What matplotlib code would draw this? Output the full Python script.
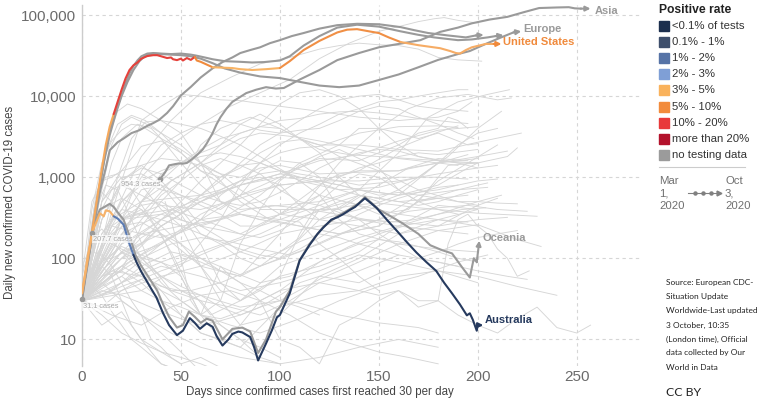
import numpy as np
import matplotlib
matplotlib.use('Agg')
import matplotlib.pyplot as plt
from matplotlib.lines import Line2D
from matplotlib.patches import Rectangle
from matplotlib.ticker import NullLocator

plt.rcParams['font.family'] = ['Liberation Sans', 'DejaVu Sans']

# ---- highlighted series (days since 30/day, daily cases) ----
us_days = [0, 3, 6, 9, 12, 14, 16, 18, 20, 22, 24, 26, 28, 30, 33, 36, 38, 40, 43, 45,
           46, 48, 50, 51, 53, 55, 57, 58, 60, 66, 70, 76, 80, 86, 93, 100, 105, 112, 120, 129,
           134, 139, 145, 150, 155, 161, 170, 181, 186, 189, 191, 194, 197, 204, 208]
us_vals = [37, 100, 300, 900, 2500, 4200, 6000, 8500, 12000, 16500, 21000, 24000, 26000, 29000, 31200, 32000, 32000, 31000, 29500, 30000,
           28500, 27800, 29000, 27500, 29500, 28000, 30500, 27500, 26500, 22700, 22500, 22200, 21500, 21000, 21500, 22200, 27000, 37000, 48000, 61000,
           66000, 67000, 63000, 60000, 53000, 46500, 42500, 39000, 36000, 34000, 33500, 37000, 40000, 44000, 44000]
us_breaks = [0, 16, 57, 66, 100, 161, 208]
us_colors = ['#f6a95c', '#e5413b', '#f08a3c', '#f8b466', '#f08f45', '#f6ac65']

na_days = [0, 3, 6, 9, 12, 14, 16, 18, 20, 22, 24, 26, 28, 30, 33, 36, 40, 45, 50, 55,
           58, 62, 66, 72, 80, 86, 92, 100, 105, 112, 120, 129, 139, 150, 161, 170, 178, 190, 197, 205, 209]
na_vals = [35, 90, 260, 750, 2200, 3800, 5500, 7500, 10500, 14500, 19000, 23500, 27500, 31000, 33500, 34000, 33500, 33000, 33500, 32500,
           31500, 30000, 28500, 27000, 26500, 26000, 26300, 27500, 31000, 42000, 55000, 70000, 76000, 72000, 63000, 57000, 53000, 49000, 50000, 53000, 55000]

eu_days = [5, 8, 11, 14, 17, 20, 23, 26, 29, 32, 36, 40, 45, 50, 55, 60, 66, 72, 80, 90,
           100, 110, 120, 130, 140, 150, 160, 170, 180, 190, 196, 204, 211, 215, 218]
eu_vals = [208, 600, 1500, 3300, 6000, 10000, 15000, 21000, 27000, 31500, 33500, 33000, 32500, 32000, 31000, 29000, 25500, 22000, 19500, 17500,
           16700, 15000, 13500, 12900, 13500, 15800, 18500, 22700, 28000, 33000, 36000, 44000, 52000, 57000, 61000]

sa_days = [0, 3, 6, 9, 12, 14, 18, 21, 25, 29, 33, 36, 39, 43, 46, 50, 55, 60, 66, 71,
           76, 80, 85, 90, 95, 100, 106, 112, 120, 129, 139, 150, 161, 168, 175, 185, 194, 199]
sa_vals = [31, 90, 250, 650, 1300, 2150, 2700, 3000, 3500, 3800, 4300, 4650, 5100, 6200, 7500, 10200, 13000, 17000, 22000, 26300,
           30000, 34000, 37000, 40000, 45000, 49000, 55000, 60000, 68000, 75000, 78000, 77000, 71000, 65000, 60000, 56000, 53000, 56000]

as_days = [39.5, 42, 44, 47, 49, 51, 53, 56, 58, 61, 63, 66, 68, 70, 73, 76, 80, 83, 88, 93,
           98, 102, 110, 120, 129, 140, 150, 160, 171, 181, 190, 197, 206, 215, 223, 231, 240, 246, 249, 252]
as_vals = [954, 1150, 1400, 1450, 1480, 1470, 1500, 1700, 1870, 2200, 2600, 3500, 4500, 5500, 7000, 8500, 9800, 10900, 12000, 12900,
           12400, 12600, 16000, 21000, 27800, 34000, 40000, 44000, 49000, 62000, 70000, 79000, 88000, 95000, 108000, 122000, 124000, 125000, 121000, 120000]

oc_days = [0, 3, 6, 9, 12, 14, 16, 18, 21, 24, 27, 30, 33, 38, 41, 44, 48, 51, 54, 57,
           60, 63, 66, 71, 76, 81, 85, 89, 93, 98, 100, 105, 110, 115, 122, 129, 135, 140, 143, 150,
           156, 162, 170, 176, 182, 187, 192, 196, 198, 199.5]
oc_vals = [31, 100, 250, 400, 440, 470, 430, 370, 300, 190, 110, 80, 62, 40, 27, 19, 14, 15, 22, 19,
           16, 18, 17, 10, 13.5, 14, 12.5, 6.8, 10, 22, 25, 40, 95, 150, 245, 330, 400, 480, 570, 400,
           330, 270, 200, 145, 126, 115, 78, 58, 100, 90]

au_days = [0, 3, 5.6, 9, 11, 12, 14, 16, 18, 21, 24, 26, 27.6, 30, 32.6, 35, 37.6, 41, 44, 46,
           48, 51, 54.5, 57, 59.6, 63, 66, 68, 71, 74, 76, 79, 81, 85, 87, 89, 91, 93, 96, 98.5,
           100, 105, 110, 115, 119, 122, 126, 129, 132, 135, 138, 141, 143, 146, 149, 154, 159, 164, 169, 174,
           179, 183, 187, 191, 194.5, 196, 197.5, 199.5, 200]
au_vals = [37, 110, 222, 360, 330, 390, 380, 330, 310, 260, 150, 110, 89, 68, 53, 42, 33, 21, 15, 13,
           11.3, 12.8, 18.3, 16, 13.5, 15.8, 14.3, 11, 8.4, 10, 11.7, 12.5, 12.2, 10.7, 8, 5.5, 7, 8.9, 13, 18.7,
           20, 37, 94, 146, 200, 240, 300, 320, 350, 390, 430, 500, 550, 480, 415, 300, 220, 160, 118, 90,
           70, 50, 37, 27, 19.8, 21, 17.5, 12.8, 15]
au_breaks = [0, 16, 26, 200]
au_colors = ['#f6b26a', '#5b7bb3', '#263a5e']

# ---- background countries ----
india = ([0, 15, 30, 45, 60, 75, 90, 105, 120, 135, 150, 160, 170, 178, 183, 190, 196, 200],
         [30, 250, 1000, 2500, 4500, 7500, 11000, 16000, 29000, 45000, 63000, 72000, 83000, 90000, 93000, 86000, 82000, 80000])
brazil = ([0, 15, 30, 45, 60, 75, 90, 105, 120, 130, 140, 150, 160, 170, 180, 190, 202],
          [30, 300, 1800, 5000, 11000, 17000, 25000, 30000, 38000, 42000, 45000, 43000, 42000, 38000, 30000, 28000, 27000])
russia = ([0, 10, 20, 30, 40, 50, 60, 70, 80, 100, 120, 140, 160, 180, 190, 197],
          [30, 150, 900, 5000, 7500, 10500, 10000, 9000, 8800, 7500, 6500, 5500, 5000, 5500, 6500, 8500])
spain = ([3, 8, 13, 18, 23, 30, 40, 50, 60, 70, 80, 90, 110, 130, 150, 165, 180, 195, 210, 217],
         [40, 600, 3000, 6500, 8000, 7000, 5000, 3500, 1500, 500, 350, 300, 400, 1500, 4000, 7000, 9500, 10500, 9000, 9500])
italy = ([7, 10, 15, 20, 25, 32, 40, 50, 60, 70, 80, 95, 110, 130, 150, 170, 185, 200, 215, 220],
         [300, 700, 2500, 4500, 5500, 4600, 3500, 2500, 1500, 900, 500, 300, 250, 200, 250, 500, 1400, 1500, 1800, 2300])
uk = ([5, 12, 18, 25, 32, 40, 50, 60, 70, 80, 90, 110, 130, 150, 170, 185, 200, 212],
      [40, 250, 1000, 3000, 4800, 5000, 4500, 4000, 3200, 2500, 1800, 900, 700, 750, 1000, 1800, 4000, 6500])
france = ([3, 10, 15, 20, 28, 35, 40, 50, 60, 70, 80, 100, 120, 140, 160, 175, 190, 205, 216],
          [50, 500, 1500, 3000, 4500, 4000, 3000, 1500, 800, 500, 400, 450, 500, 700, 2000, 5500, 8500, 10500, 12000])
germany = ([0, 6, 12, 18, 25, 32, 40, 50, 60, 75, 90, 110, 130, 150, 165, 180, 200, 215],
           [35, 400, 2000, 4500, 5800, 5000, 3500, 2000, 1200, 700, 400, 400, 400, 800, 1300, 1500, 1800, 2100])
iran = ([0, 5, 10, 15, 20, 30, 40, 50, 60, 70, 80, 90, 100, 110, 120, 140, 160, 180, 200, 222],
        [60, 500, 900, 1000, 1200, 2400, 2800, 2000, 1200, 1000, 1300, 2000, 2700, 2900, 2500, 2500, 2200, 2100, 2700, 3500])
turkey = ([0, 5, 10, 15, 20, 25, 30, 40, 50, 60, 70, 80, 90, 100, 120, 140, 160, 180, 195],
          [30, 400, 1500, 2800, 3800, 4500, 4300, 3000, 2200, 1500, 1100, 1000, 1300, 1400, 1100, 1150, 1200, 1700, 1600])
mexico = ([0, 15, 30, 40, 50, 60, 70, 80, 90, 100, 110, 120, 130, 140, 150, 160, 170, 180, 190, 195],
          [30, 100, 500, 900, 1500, 2200, 3000, 3500, 4200, 5000, 5300, 6000, 6400, 6500, 6200, 5800, 5300, 5000, 4700, 4600])
peru = ([0, 15, 30, 40, 50, 60, 70, 80, 90, 100, 110, 120, 130, 140, 150, 160, 170, 180, 190, 198],
        [30, 150, 1200, 2500, 3500, 4500, 5000, 4500, 3800, 3500, 3800, 4000, 5000, 6500, 7500, 7000, 5500, 4500, 3500, 3000])
chile = ([0, 15, 30, 40, 50, 60, 70, 80, 85, 90, 100, 110, 120, 135, 150, 165, 180, 200],
         [30, 250, 450, 500, 900, 2500, 4000, 5000, 5500, 5000, 4000, 3000, 2200, 1900, 1800, 1700, 1600, 1500])
colombia = ([0, 20, 40, 60, 70, 80, 90, 100, 110, 120, 130, 140, 150, 160, 170, 180, 195],
            [30, 150, 300, 600, 900, 1500, 2500, 3500, 5000, 7000, 9000, 10000, 10500, 9000, 7500, 7000, 6500])
argentina = ([0, 20, 40, 60, 70, 80, 90, 100, 110, 120, 130, 140, 150, 160, 170, 180, 190, 195],
             [30, 100, 150, 300, 600, 900, 1500, 2500, 3500, 4500, 6000, 7000, 8500, 9000, 10000, 11000, 12000, 12000])
south_africa = ([0, 15, 30, 40, 50, 60, 70, 80, 90, 100, 110, 120, 130, 140, 150, 160, 170, 190, 200],
                [30, 100, 150, 300, 500, 900, 1500, 2500, 4500, 8000, 11000, 12000, 10000, 7000, 4000, 2500, 1800, 1500, 1300])
saudi = ([0, 15, 30, 40, 50, 60, 70, 80, 90, 100, 110, 120, 130, 150, 170, 190, 200],
         [30, 120, 500, 1100, 1500, 2000, 2500, 3500, 4200, 4000, 3000, 2500, 1800, 1200, 700, 500, 450])
pakistan = ([0, 15, 30, 45, 60, 70, 80, 90, 100, 110, 120, 130, 140, 160, 180, 195],
            [30, 200, 350, 900, 1500, 2500, 4500, 6000, 4500, 3000, 2000, 1000, 600, 500, 550, 600])
bangladesh = ([0, 30, 45, 60, 70, 80, 90, 100, 110, 120, 140, 160, 180, 190],
              [30, 500, 900, 1500, 2200, 3000, 3500, 3300, 3100, 2800, 2200, 1700, 1500, 1400])
indonesia = ([0, 20, 40, 60, 80, 100, 120, 140, 160, 180, 200],
             [40, 200, 350, 550, 800, 1100, 1600, 1900, 2800, 3800, 4200])
philippines = ([0, 15, 30, 50, 70, 90, 110, 130, 140, 150, 160, 170, 180, 195, 200],
               [30, 250, 200, 250, 300, 600, 1500, 2500, 4000, 4000, 3500, 3000, 3500, 2500, 2600])
canada = ([0, 10, 20, 30, 40, 50, 60, 70, 80, 100, 120, 140, 160, 180, 195],
          [30, 300, 900, 1400, 1700, 1600, 1400, 1100, 700, 350, 300, 400, 600, 1500, 1900])
israel = ([0, 10, 20, 30, 40, 50, 60, 70, 80, 90, 100, 110, 120, 140, 160, 170, 180, 185, 190, 195],
          [30, 400, 550, 400, 200, 60, 20, 30, 150, 400, 900, 1400, 1700, 1600, 2500, 3500, 4000, 5500, 5000, 4000])
iraq = ([0, 30, 50, 70, 80, 90, 100, 110, 120, 140, 160, 180, 190],
        [30, 40, 80, 300, 800, 1500, 2000, 2300, 2400, 3500, 4200, 4300, 4100])
ukraine = ([0, 20, 40, 60, 80, 100, 120, 140, 160, 180, 190],
           [30, 300, 450, 400, 550, 800, 900, 1200, 2300, 3600, 4300])
romania = ([0, 20, 40, 60, 80, 100, 120, 130, 140, 160, 180, 200],
           [30, 300, 350, 250, 200, 350, 800, 1100, 1200, 1200, 1500, 1700])
sweden = ([0, 15, 30, 45, 60, 70, 80, 90, 100, 110, 120, 140, 160, 180, 200, 210],
          [35, 300, 500, 550, 600, 700, 900, 1000, 800, 450, 300, 250, 200, 250, 450, 550])
belgium = ([0, 10, 20, 30, 40, 50, 60, 70, 80, 90, 100, 110, 120, 135, 150, 165, 180, 195, 210],
           [40, 500, 1200, 1400, 900, 500, 250, 180, 120, 100, 120, 180, 400, 500, 350, 400, 900, 1500, 2500])
netherlands = ([0, 10, 20, 30, 40, 50, 60, 70, 80, 90, 100, 120, 140, 150, 160, 170, 180, 190, 200, 210],
               [30, 500, 1000, 1100, 800, 400, 200, 150, 100, 80, 100, 300, 600, 550, 700, 1000, 1500, 2500, 3500, 4000])
japan = ([0, 10, 20, 30, 40, 50, 60, 70, 80, 90, 100, 110, 120, 130, 140, 150, 160, 170, 180, 190, 200, 210, 220],
         [30, 50, 70, 250, 500, 350, 150, 50, 30, 40, 60, 200, 500, 800, 1100, 1000, 700, 500, 550, 500, 500, 480, 470])
korea = ([10, 15, 20, 30, 40, 50, 60, 70, 80, 90, 100, 110, 120, 130, 140, 150, 160, 170, 180, 185,
          190, 195, 200, 205, 210, 215, 220, 226],
         [650, 500, 300, 100, 90, 60, 20, 10, 15, 30, 40, 45, 50, 45, 40, 35, 40, 30, 30, 150,
          300, 350, 250, 200, 130, 100, 60, 70])
china = ([42, 45, 50, 55, 60, 65, 70, 75, 80, 90, 100, 110, 120, 130, 140, 150, 160, 170, 180, 190,
          200, 210, 220, 230, 240, 250, 257],
         [500, 300, 100, 30, 20, 40, 80, 60, 50, 30, 10, 8, 5, 15, 20, 30, 40, 25, 30, 20,
          15, 12, 18, 25, 14, 12, 15])
qatar = ([0, 20, 30, 40, 50, 60, 70, 80, 90, 100, 110, 120, 140, 160, 180, 195],
         [30, 150, 300, 600, 900, 1400, 1700, 1400, 1100, 700, 500, 450, 300, 250, 220, 200])
egypt = ([0, 20, 30, 40, 50, 60, 70, 80, 90, 100, 110, 120, 130, 140, 160, 180, 200],
         [30, 100, 150, 250, 350, 600, 1000, 1400, 1500, 1200, 900, 600, 300, 200, 150, 130, 120])
morocco = ([0, 20, 40, 60, 80, 100, 110, 120, 130, 140, 150, 160, 170, 180, 200],
           [30, 120, 200, 80, 60, 200, 400, 600, 1000, 1300, 1500, 1800, 2000, 1900, 2200])
new_zealand = ([0, 5, 10, 15, 20, 25, 30, 35, 40, 45, 50],
               [35, 60, 80, 60, 30, 15, 10, 7, 5, 4.5, 4])
singapore = ([0, 10, 20, 30, 40, 50, 60, 70, 80, 90, 100, 110, 120, 130, 140, 150],
             [30, 300, 800, 900, 700, 600, 450, 350, 250, 250, 300, 280, 150, 100, 60, 40])
malaysia = ([0, 5, 10, 15, 20, 30, 40, 50, 60, 70, 80, 90],
            [80, 150, 180, 150, 130, 100, 60, 40, 30, 15, 10, 6])
thailand = ([0, 5, 10, 15, 20, 25, 30, 35, 40, 45, 50],
            [40, 120, 110, 80, 50, 30, 20, 10, 8, 6, 5])
portugal = ([0, 10, 15, 20, 30, 40, 50, 60, 70, 80, 90, 110, 130, 150, 170, 190, 200, 205],
            [30, 400, 700, 800, 600, 450, 300, 250, 300, 350, 300, 250, 200, 250, 500, 700, 800, 850])
switzerland = ([0, 7, 12, 18, 25, 35, 45, 55, 65, 80, 100, 120, 140, 160, 180, 200, 212],
               [35, 600, 1000, 1100, 700, 300, 120, 40, 20, 30, 80, 120, 180, 250, 350, 500, 600])
austria = ([0, 7, 12, 18, 25, 35, 45, 55, 70, 90, 110, 130, 150, 170, 190, 205],
           [30, 400, 800, 700, 300, 80, 40, 40, 50, 80, 120, 200, 300, 600, 700, 750])
ireland = ([0, 10, 20, 30, 40, 50, 60, 70, 80, 100, 120, 140, 160, 180, 200],
           [30, 200, 500, 800, 400, 250, 80, 30, 15, 20, 60, 100, 200, 300, 400])
denmark = ([0, 10, 20, 30, 40, 50, 60, 70, 80, 100, 120, 140, 160, 180, 200],
           [35, 80, 250, 280, 200, 150, 80, 40, 30, 60, 80, 120, 250, 450, 400])
norway = ([0, 5, 10, 20, 30, 40, 50, 60, 80, 100, 120, 140, 160, 180, 200],
          [60, 180, 230, 120, 70, 40, 20, 12, 8, 25, 35, 40, 60, 70, 50])
ecuador = ([0, 10, 20, 30, 40, 50, 60, 70, 80, 90, 100, 120, 140, 160, 180, 195],
           [30, 150, 300, 700, 800, 600, 500, 400, 600, 700, 800, 900, 900, 1000, 1000, 950])
bolivia = ([0, 20, 40, 60, 80, 100, 110, 120, 130, 140, 150, 160, 170, 180, 190],
           [30, 60, 150, 350, 600, 1000, 1300, 1800, 2200, 1700, 1300, 700, 500, 400, 350])
kazakhstan = ([0, 20, 40, 60, 80, 90, 100, 110, 120, 130, 140, 150, 170, 190],
              [30, 80, 150, 300, 600, 1200, 1600, 1500, 1000, 400, 300, 200, 100, 80])
guatemala = ([0, 20, 40, 60, 80, 100, 110, 120, 130, 140, 150, 160, 170, 180],
             [30, 80, 250, 500, 800, 1100, 1000, 900, 800, 700, 600, 650, 600, 550])
poland = ([0, 15, 30, 45, 60, 80, 100, 120, 140, 160, 180, 195, 200],
          [30, 300, 350, 400, 300, 350, 300, 450, 700, 600, 800, 1300, 1500])
small_a = ([0, 5, 10, 15, 20, 25, 30, 40, 50], [30, 45, 35, 22, 15, 10, 8, 5, 4])
small_b = ([0, 10, 20, 30, 40, 50, 60, 75, 90, 110, 130, 150, 170, 190, 205],
           [30, 25, 40, 55, 40, 30, 20, 15, 12, 18, 30, 45, 60, 90, 110])
small_c = ([0, 10, 20, 30, 40, 50, 60, 70, 80], [30, 15, 22, 10, 7, 6, 5, 4, 4])
small_d = ([0, 10, 20, 30, 40, 60, 80, 100, 120, 140, 160, 180, 200, 220, 232],
           [30, 60, 80, 60, 45, 35, 25, 30, 55, 90, 150, 220, 260, 170, 140])
small_e = ([0, 10, 20, 30, 45, 60, 80, 100, 120, 140, 160, 180],
           [30, 50, 30, 20, 12, 8, 6, 5, 6, 8, 10, 8])
small_f = ([0, 20, 40, 60, 80, 100, 120, 140, 160, 180, 200, 215],
           [30, 40, 60, 80, 120, 200, 250, 300, 280, 250, 300, 320])
small_g = ([0, 15, 30, 45, 60, 75, 90, 105, 120, 135, 150, 165, 180],
           [30, 20, 15, 25, 35, 40, 30, 20, 12, 9, 7, 6, 5])
small_h = ([0, 10, 20, 30, 45, 60, 80, 100, 120, 140, 160, 180, 200],
           [30, 90, 140, 110, 80, 120, 180, 350, 600, 450, 350, 300, 250])
small_i = ([0, 15, 30, 45, 60, 75, 90, 105, 120, 140, 160, 180, 200, 215, 225],
           [30, 70, 60, 40, 30, 25, 20, 30, 50, 70, 110, 90, 70, 60, 55])
small_j = ([0, 10, 20, 30, 40, 50, 60, 70, 80, 90, 100, 110, 120, 130, 140, 150, 160, 170, 180, 190, 200],
           [30, 80, 150, 200, 180, 220, 300, 250, 200, 180, 220, 300, 400, 500, 600, 550, 500, 450, 500, 600, 700])
small_k = ([0, 8, 16, 24, 32, 40, 50, 60, 70, 80, 90, 100],
           [30, 120, 200, 150, 90, 50, 30, 20, 15, 10, 8, 6])
small_l = ([0, 10, 20, 30, 40, 50, 60, 70, 80, 90, 100, 120, 140, 160, 180, 200, 210],
           [30, 60, 100, 180, 250, 350, 500, 700, 900, 1100, 1200, 1000, 800, 900, 1100, 1300, 1400])
small_m = ([0, 15, 30, 45, 60, 75, 90, 105, 120, 135, 150, 165, 180, 195],
           [30, 40, 80, 120, 100, 70, 50, 60, 90, 140, 200, 260, 300, 280])
small_n = ([0, 10, 20, 30, 40, 50, 60, 70, 80, 90, 100, 110, 120],
           [30, 100, 300, 400, 250, 150, 100, 70, 50, 40, 30, 25, 20])
small_o = ([0, 12, 24, 36, 48, 60, 72, 84, 96, 108, 120, 132, 144, 156, 168, 180, 192, 204],
           [30, 50, 90, 140, 200, 260, 320, 400, 450, 420, 380, 340, 300, 280, 300, 350, 400, 420])
small_p = ([0, 10, 20, 30, 40, 50, 60, 70, 80, 90, 100, 110, 120, 130, 140, 150, 160],
           [30, 35, 50, 70, 90, 110, 90, 70, 60, 80, 120, 160, 200, 180, 150, 130, 110])
small_q = ([0, 10, 20, 30, 40, 50, 60, 70, 80, 90, 100, 110, 120, 130, 140, 150, 160, 170, 180, 190, 200, 210, 220],
           [30, 70, 120, 90, 60, 45, 35, 25, 20, 25, 35, 50, 60, 55, 50, 65, 80, 100, 120, 150, 180, 200, 220])
small_r = ([0, 10, 20, 30, 40, 50, 60, 70, 80, 90, 100, 110, 120, 130, 140, 150, 160, 170, 180, 190, 200, 210],
           [30, 150, 500, 900, 1200, 1500, 1800, 2000, 1800, 1500, 1200, 1000, 900, 800, 700, 650, 600, 650, 700, 800, 900, 950])
small_s = ([0, 10, 20, 30, 40, 50, 60, 70, 80], [30, 20, 12, 9, 7, 5, 6, 4.5, 4])
small_t = ([0, 10, 20, 30, 40, 50, 60, 70, 80, 90, 100, 110, 120, 130, 140, 150, 160, 170, 180, 190, 200],
           [30, 45, 60, 40, 30, 25, 20, 18, 22, 30, 40, 60, 90, 120, 150, 170, 160, 140, 120, 100, 90])
small_u = ([0, 10, 20, 30, 40, 50, 60, 70, 80, 90, 100, 110, 120, 130, 140, 150, 160, 170, 180, 190],
           [30, 200, 400, 350, 300, 250, 200, 160, 130, 110, 100, 130, 180, 250, 350, 450, 550, 650, 750, 800])
small_v = ([0, 10, 20, 30, 40, 50, 60, 70, 80, 90, 100], [30, 60, 70, 50, 30, 20, 12, 10, 8, 6, 5])
small_w = ([0, 15, 30, 45, 60, 75, 90, 105, 120, 135, 150, 165, 180, 195, 210, 225],
           [30, 60, 100, 150, 180, 160, 130, 110, 150, 220, 300, 380, 420, 450, 400, 380])
small_x = ([0, 10, 20, 30, 40, 50, 60, 70, 80, 90, 100, 110, 120, 130, 140, 150, 160, 170, 180],
           [30, 40, 35, 28, 22, 18, 15, 17, 20, 25, 30, 28, 24, 20, 18, 16, 15, 14, 12])
small_y = ([0, 10, 20, 30, 40, 50, 60, 70, 80, 90, 100, 110, 120, 130, 140, 150, 160, 170, 180, 190, 200],
           [30, 300, 900, 1300, 1100, 800, 600, 500, 450, 500, 650, 900, 1300, 1700, 2000, 2200, 2100, 1800, 1600, 1500, 1500])
small_z = ([0, 20, 40, 60, 80, 100, 120, 140, 160, 180, 200, 220, 240],
           [30, 50, 80, 60, 40, 50, 70, 110, 90, 70, 60, 45, 35])
small_aa = ([0, 10, 20, 30, 40, 50, 60, 70, 80, 90, 100, 110, 120, 130, 140, 150, 160, 170, 180, 190, 200, 210, 220, 230],
            [30, 35, 45, 55, 70, 85, 110, 140, 170, 200, 260, 320, 380, 420, 460, 480, 450, 420, 400, 380, 360, 350, 340, 330])
small_bb = ([0, 10, 20, 30, 40, 50, 60], [30, 25, 30, 20, 12, 7, 4])
small_cc = ([0, 10, 20, 30, 40, 50, 60, 70, 80, 90, 100, 110, 120, 130, 140, 150],
            [30, 60, 120, 200, 300, 400, 500, 650, 800, 900, 1000, 950, 850, 700, 600, 500])

background = [india, brazil, russia, spain, italy, uk, france, germany, iran, turkey,
              mexico, peru, chile, colombia, argentina, south_africa, saudi, pakistan,
              bangladesh, indonesia, philippines, canada, israel, iraq, ukraine, romania,
              sweden, belgium, netherlands, japan, korea, china, qatar, egypt, morocco,
              new_zealand, singapore, malaysia, thailand, portugal, switzerland, austria,
              ireland, denmark, norway, ecuador, bolivia, kazakhstan, guatemala, poland,
              small_a, small_b, small_c, small_d, small_e, small_f, small_g, small_h, small_i,
              small_j, small_k, small_l, small_m, small_n, small_o, small_p, small_q, small_r,
              small_s, small_t, small_u, small_v, small_w, small_x, small_y, small_z,
              small_aa, small_bb, small_cc]

legend_labels = ['<0.1% of tests', '0.1% - 1%', '1% - 2%', '2% - 3%', '3% - 5%',
                 '5% - 10%', '10% - 20%', 'more than 20%', 'no testing data']
legend_colors = ['#1c2f4e', '#3e4f6c', '#5673a6', '#7f9fd6', '#f9b25c',
                 '#f28b3c', '#e8393a', '#b3122c', '#9b9b9b']

source_lines = ['Source: European CDC-', 'Situation Update', 'Worldwide-Last updated',
                '3 October, 10:35', '(London time), Official', 'data collected by Our',
                'World in Data']

W, H = 761, 405
GRAY = '#9a9a9a'


def fx(px):
    return px / W


def fy(py):
    return 1 - py / H


def draw_segments(ax, days, vals, breaks, colors, lw):
    d = np.array(days)
    v = np.array(vals)
    for i, c in enumerate(colors):
        m = (d >= breaks[i]) & (d <= breaks[i + 1])
        ax.plot(d[m], v[m], color=c, lw=lw, solid_capstyle='round',
                solid_joinstyle='round', zorder=5)


def end_arrow(ax, x0, y0, x1, y1, color, lw):
    ax.annotate('', xy=(x1, y1), xytext=(x0, y0),
                arrowprops=dict(arrowstyle='-|>', color=color, lw=lw,
                                mutation_scale=7, shrinkA=0, shrinkB=0),
                zorder=6)


fig = plt.figure(figsize=(W / 100, H / 100), dpi=100)
ax = fig.add_axes([fx(82), fy(366), fx(640) - fx(82), fy(5) - fy(366)])
ax.set_yscale('log')
ax.set_xlim(0, 282)
ax.set_ylim(4.7, 133000)

# background lines
for days, vals in background:
    ax.plot(days, vals, color='#d6d6d6', lw=0.65, zorder=2)

lw_main = 1.5
for days, vals in [(oc_days, oc_vals), (eu_days, eu_vals), (as_days, as_vals),
                   (sa_days, sa_vals), (na_days, na_vals)]:
    ax.plot(days, vals, color=GRAY, lw=lw_main, zorder=4,
            solid_joinstyle='round')

draw_segments(ax, us_days, us_vals, us_breaks, us_colors, lw_main)
draw_segments(ax, au_days, au_vals, au_breaks, au_colors, lw_main)

# arrows at series ends
end_arrow(ax, 208, 44000, 212, 44000, '#f08a3c', lw_main)
end_arrow(ax, 209, 55000, 213, 56500, GRAY, lw_main)
end_arrow(ax, 199, 56000, 203, 57000, GRAY, lw_main)
end_arrow(ax, 218, 61000, 222, 63000, GRAY, lw_main)
end_arrow(ax, 252, 120000, 257, 120000, GRAY, lw_main)
end_arrow(ax, 199.5, 90, 200.8, 165, GRAY, lw_main)
end_arrow(ax, 200, 15, 202.8, 15, '#263a5e', lw_main)

# series labels
lab = dict(fontsize=8, fontweight='bold', va='center', ha='left', zorder=7)
ax.text(259, 112000, 'Asia', color=GRAY, **lab)
ax.text(223, 67000, 'Europe', color=GRAY, **lab)
ax.text(213, 46000, 'United States', color='#f08a3c', **lab)
ax.text(202.5, 177, 'Oceania', color=GRAY, **lab)
ax.text(203.5, 17.2, 'Australia', color='#263a5e', **lab)

# start point annotations
ax.plot([0, 5, 39.5], [31.1, 207.7, 954.3], 'o', color=GRAY, ms=3, zorder=6,
        clip_on=False)
note = dict(fontsize=5.3, color='#a8a8a8', va='center', zorder=7,
            bbox=dict(boxstyle='square,pad=0.1', fc='white', ec='none', alpha=0.7))
ax.text(0.5, 25.5, '31.1 cases', ha='left', **note)
ax.text(5.5, 172, '207.7 cases', ha='left', **note)
ax.text(39.5, 820, '954.3 cases', ha='right', **note)

# axes styling
ax.set_xticks([0, 50, 100, 150, 200, 250])
ax.set_yticks([10, 100, 1000, 10000, 100000])
ax.set_yticklabels(['10', '100', '1,000', '10,000', '100,000'])
ax.yaxis.set_minor_locator(NullLocator())
ax.tick_params(length=0, labelsize=11, labelcolor='#6b6b6b')
ax.tick_params(axis='x', pad=3)
ax.tick_params(axis='y', pad=4)
ax.grid(True, color='#d6d6d6', lw=0.8, ls=(0, (3, 3)), zorder=0)
for s in ['top', 'right', 'bottom']:
    ax.spines[s].set_visible(False)
ax.spines['left'].set_color('#cccccc')
ax.spines['left'].set_linewidth(1)

fig.text(fx(10), fy(202), 'Daily new confirmed COVID-19 cases', rotation=90,
         fontsize=8.3, color='#444444', ha='center', va='center')
fig.text(fx(320), fy(392), 'Days since confirmed cases first reached 30 per day',
         fontsize=8.3, color='#444444', ha='center', va='center')

# legend
fig.text(fx(659), fy(10), 'Positive rate', fontsize=8.7, fontweight='bold',
         color='#222222', va='center', ha='left')
for i, (lbl, col) in enumerate(zip(legend_labels, legend_colors)):
    yc = 26 + i * 16.1
    fig.patches.append(Rectangle((fx(659), fy(yc + 5)), fx(10), 10 / H,
                                 transform=fig.transFigure, color=col))
    fig.text(fx(672), fy(yc), lbl, fontsize=8.2, color='#333333',
             va='center', ha='left')
fig.add_artist(Line2D([fx(659), fx(745)], [fy(167), fy(167)],
                      color='#cccccc', lw=0.8))

for i, (a, b) in enumerate(zip(['Mar', '1,', '2020'], ['Oct', '3,', '2020'])):
    yy = 181 + i * 12.3
    fig.text(fx(659), fy(yy), a, fontsize=8.2, color='#707070', va='center')
    fig.text(fx(725), fy(yy), b, fontsize=8.2, color='#707070', va='center')
fig.add_artist(Line2D([fx(688), fx(718)], [fy(193), fy(193)], color='#808080', lw=0.8))
fig.add_artist(Line2D([fx(695), fx(703), fx(711)], [fy(193)] * 3, ls='none',
                      marker='o', ms=2.2, color='#808080'))
fig.add_artist(Line2D([fx(719)], [fy(193)], ls='none', marker='>', ms=3.5,
                      color='#808080'))

for i, line in enumerate(source_lines):
    fig.text(fx(666), fy(283 + i * 14), line, fontsize=6.0, color='#222222',
             va='center', ha='left', family='Lato')
fig.text(fx(666), fy(392), 'CC BY', fontsize=8.8, color='#222222',
         va='center', ha='left', family='Lato')

fig.savefig('out.png', dpi=100, facecolor='white')
